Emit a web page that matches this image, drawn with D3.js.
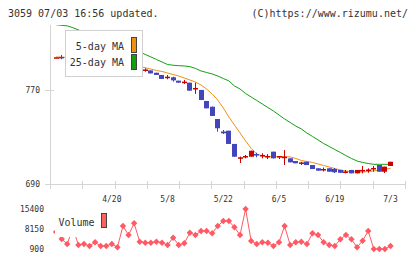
<!DOCTYPE html>
<html>
<head>
<meta charset="utf-8">
<script src="https://cdn.jsdelivr.net/npm/d3@7"></script>
<style>
body { margin: 0; background: #fff; }
svg { display: block; }
text { font-family: "DejaVu Sans Mono", monospace; fill: #333; }
</style>
</head>
<body>
<svg id="chart" width="420" height="259"></svg>
<script>
const dates = ['4/6','4/7','4/8','4/9','4/10','4/13','4/14','4/15','4/16','4/17',
  '4/20','4/21','4/22','4/23','4/24','4/27','4/28','4/30','5/1','5/7',
  '5/8','5/11','5/12','5/13','5/14','5/15','5/18','5/19','5/20','5/21',
  '5/22','5/25','5/26','5/27','5/28','5/29','6/1','6/2','6/3','6/4',
  '6/5','6/8','6/9','6/10','6/11','6/12','6/15','6/16','6/17','6/18',
  '6/19','6/22','6/23','6/24','6/25','6/26','6/29','6/30','7/1','7/2','7/3'];

const opens = [798.0,798.5,797.2,798.7,795.0,797.3,796.0,795.0,795.3,794.4,
  792.8,793.1,793.0,792.2,788.3,787.6,787.3,787.0,785.0,783.1,
  781.1,781.1,778.2,776.6,776.5,771.2,770.3,760.9,756.0,745.5,
  734.8,735.5,724.2,711.7,712.6,713.3,715.6,714.0,713.1,717.6,
  712.6,712.6,711.9,709.6,707.5,709.0,706.2,703.4,702.0,703.4,
  702.8,702.0,699.8,702.0,699.1,701.1,701.5,702.8,706.2,700.5,705.4];
const highs = [798.2,800.2,797.4,798.7,797.9,797.3,796.5,796.0,795.3,794.4,
  793.6,793.1,793.0,792.2,789.2,788.8,788.8,787.0,785.0,783.1,
  783.1,781.6,778.2,778.8,776.5,776.5,770.3,760.9,756.0,745.5,
  736.1,735.5,724.2,713.4,714.8,718.4,716.7,716.2,715.6,717.6,
  713.9,719.0,711.9,709.6,709.0,709.0,706.2,703.4,704.1,703.4,
  703.7,702.0,702.0,702.0,702.0,705.4,703.4,705.4,706.2,704.8,709.0];
const lows = [798.0,796.5,797.2,795.3,795.0,795.9,794.4,793.6,793.6,792.5,
  791.6,791.6,791.7,788.8,788.3,785.9,785.9,784.4,783.1,779.7,
  779.4,777.4,776.5,775.4,769.7,766.9,761.7,754.6,748.1,734.7,
  732.7,724.2,713.3,707.9,711.9,713.3,712.8,711.9,711.3,711.9,
  711.3,706.2,708.5,707.7,706.2,706.2,702.8,701.4,700.7,700.5,
  699.4,699.6,699.1,699.1,699.1,699.1,699.6,700.5,700.5,699.4,705.4];
const closes = [798.2,797.9,797.4,795.3,797.9,795.9,795.2,795.5,793.6,792.5,
  793.3,791.6,791.7,788.8,789.2,788.1,787.8,784.4,783.1,779.7,
  781.6,778.5,776.5,777.4,769.7,772.0,761.7,754.6,748.1,737.6,
  733.3,724.2,713.3,712.8,713.9,718.4,714.3,714.8,713.9,711.9,
  713.9,713.3,708.5,707.7,708.4,706.2,702.8,701.4,702.8,700.5,
  700.0,699.6,700.7,699.1,702.0,702.0,702.4,703.7,700.5,704.8,709.0];

const ma5 = [798.5,798.3,798.0,797.6,797.3,797.0,796.6,796.0,795.4,794.7,
  794.0,793.3,792.6,791.8,791.0,790.3,789.3,788.2,786.9,786.1,
  784.8,783.5,782.2,780.5,778.8,777.1,774.5,771.1,766.9,761.7,
  754.9,747.2,740.4,733.6,726.8,720.4,715.6,713.9,713.5,713.3,
  713.3,713.3,713.1,711.8,710.1,709.2,708.4,707.1,705.8,704.5,
  703.2,702.0,701.1,700.5,700.2,700.2,700.7,701.1,702.0,702.6,703.4];
const ma25 = [826.0,825.5,825.0,823.5,821.6,819.4,817.5,815.8,813.4,811.6,
  809.7,807.4,805.9,804.6,803.3,802.7,800.6,798.5,796.3,794.2,
  792.0,791.4,791.0,790.8,790.2,788.7,786.5,785.2,784.0,782.2,
  780.1,778.0,773.7,771.1,767.3,764.3,761.3,758.3,755.3,752.3,
  748.9,745.5,742.5,739.5,737.0,733.5,730.6,727.6,724.6,722.0,
  719.5,716.9,714.3,711.8,709.6,708.4,707.5,706.8,706.8,706.8,706.8];

const volumes = [7060,4525,2713,8513,2350,2713,1988,3329,1988,1988,
  2713,1516,9238,5975,10216,3546,3184,3184,3546,3184,
  2350,4996,2350,2966,6809,5975,7425,7425,6591,9238,
  11050,11050,8766,5975,15400,3800,2713,3329,3184,1988,
  3329,9238,2350,3329,3546,2713,6591,5975,3329,2350,
  1988,4416,5975,4416,1516,3909,7425,900,900,900,1988];

const xLabels = ['4/20','5/8','5/22','6/5','6/19','7/3'];
const priceTicks = [690, 770];
const volumeTicks = [900, 8150, 15400];

const svg = d3.select('#chart');

const xScale = d3.scalePoint().domain(dates).range([56.1, 390.5]);
const gridScale = d3.scaleLinear().domain([0, 11]).range([50, 405]);
const yScale = d3.scaleLinear().domain([690, 770]).range([184, 90.3]);
const vScale = d3.scaleLinear().domain([900, 15400]).range([249, 209]);

const axisColor = '#d4d4d4';
const up = '#cc0000', down = '#4444bb';

// header
svg.append('text').attr('x', 8).attr('y', 16.5).attr('font-size', 10)
  .text('3059 07/03 16:56 updated.');
svg.append('text').attr('x', 408).attr('y', 16.5).attr('font-size', 10)
  .attr('text-anchor', 'end').text('(C)https://www.rizumu.net/');

// axes
svg.append('line').attr('x1', 50.5).attr('x2', 50.5).attr('y1', 25).attr('y2', 189)
  .attr('stroke', axisColor);
svg.append('line').attr('x1', 50).attr('x2', 405).attr('y1', 184.5).attr('y2', 184.5)
  .attr('stroke', axisColor);
svg.selectAll('.xtick').data(gridScale.ticks(11)).enter().append('line')
  .attr('x1', d => Math.round(gridScale(d)) + 0.5)
  .attr('x2', d => Math.round(gridScale(d)) + 0.5)
  .attr('y1', 181).attr('y2', 189)
  .attr('stroke', axisColor);
svg.selectAll('.ytick').data(priceTicks).enter().append('line')
  .attr('x1', 45).attr('x2', 54)
  .attr('y1', d => Math.round(yScale(d)) + 0.5)
  .attr('y2', d => Math.round(yScale(d)) + 0.5)
  .attr('stroke', axisColor);
svg.selectAll('.ylabel').data(priceTicks).enter().append('text')
  .attr('x', 40).attr('y', d => yScale(d) + 3)
  .attr('text-anchor', 'end').attr('font-size', 8)
  .text(d => d);
svg.selectAll('.xlabel').data(xLabels).enter().append('text')
  .attr('x', d => xScale(d)).attr('y', 201.5)
  .attr('text-anchor', 'middle').attr('font-size', 8)
  .text(d => d);

// plot clip
svg.append('clipPath').attr('id', 'plotclip').append('rect')
  .attr('x', 50).attr('y', 25).attr('width', 355).attr('height', 159);
const plot = svg.append('g').attr('clip-path', 'url(#plotclip)');

const line = d3.line()
  .x((d, i) => xScale(dates[i]))
  .y(d => yScale(d));
plot.append('path').attr('d', line(ma25)).attr('fill', 'none')
  .attr('stroke', '#11a011').attr('stroke-width', 1);
plot.append('path').attr('d', line(ma5)).attr('fill', 'none')
  .attr('stroke', '#f0900f').attr('stroke-width', 1);

// legend box (white) hides the MA lines beneath it
svg.append('rect').attr('x', 65.5).attr('y', 30.5).attr('width', 77).attr('height', 46)
  .attr('fill', '#fff').attr('stroke', '#d0d0d0');

// candles
const candles = plot.selectAll('.candle').data(dates).enter().append('g');
candles.append('line')
  .attr('x1', (d, i) => Math.round(xScale(d) - 2.5) + 2.5)
  .attr('x2', (d, i) => Math.round(xScale(d) - 2.5) + 2.5)
  .attr('y1', (d, i) => yScale(highs[i]))
  .attr('y2', (d, i) => yScale(lows[i]))
  .attr('stroke', (d, i) => closes[i] >= opens[i] ? up : down);
candles.append('rect')
  .attr('x', d => Math.round(xScale(d) - 2.5))
  .attr('width', 5)
  .attr('y', (d, i) => yScale(Math.max(opens[i], closes[i])))
  .attr('height', (d, i) => Math.max(1.5, Math.abs(yScale(opens[i]) - yScale(closes[i]))))
  .attr('fill', (d, i) => closes[i] >= opens[i] ? up : down);

// legend text
svg.append('text').attr('x', 124).attr('y', 49.5).attr('font-size', 10)
  .attr('text-anchor', 'end').text('5-day MA');
svg.append('text').attr('x', 124).attr('y', 65.5).attr('font-size', 10)
  .attr('text-anchor', 'end').text('25-day MA');
svg.append('rect').attr('x', 131.5).attr('y', 37.5).attr('width', 5).attr('height', 15)
  .attr('fill', '#f0900f').attr('stroke', '#444');
svg.append('rect').attr('x', 131.5).attr('y', 54.5).attr('width', 5).attr('height', 15)
  .attr('fill', '#11a011').attr('stroke', '#444');

// volume panel
svg.selectAll('.vlabel').data(volumeTicks).enter().append('text')
  .attr('x', 44).attr('y', d => vScale(d) + 3)
  .attr('text-anchor', 'end').attr('font-size', 8)
  .text(d => d);

const volColor = '#ff5a64';
const vline = d3.line()
  .x((d, i) => xScale(dates[i]))
  .y(d => vScale(d));
svg.append('path').attr('d', vline(volumes)).attr('fill', 'none')
  .attr('stroke', volColor).attr('stroke-width', 1);
svg.selectAll('.vpt').data(volumes).enter().append('path')
  .attr('d', d3.symbol(d3.symbolDiamond2, 26))
  .attr('transform', (d, i) => `translate(${xScale(dates[i])},${vScale(d)})`)
  .attr('fill', volColor);

svg.append('rect').attr('x', 55).attr('y', 205).attr('width', 57).attr('height', 32)
  .attr('fill', '#fff');
svg.append('text').attr('x', 58.5).attr('y', 225.5).attr('font-size', 10).text('Volume');
svg.append('rect').attr('x', 101.5).attr('y', 213.5).attr('width', 5).attr('height', 14)
  .attr('fill', '#ff6060').attr('stroke', '#444');
</script>
</body>
</html>
